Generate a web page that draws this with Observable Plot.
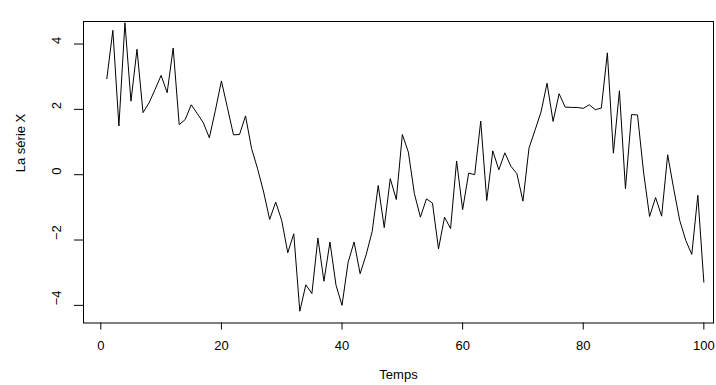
<!DOCTYPE html>
<html>
<head>
<meta charset="utf-8">
<script src="https://cdn.jsdelivr.net/npm/d3@7"></script>
<script src="https://cdn.jsdelivr.net/npm/@observablehq/plot@0.6"></script>
<style>
  html, body { margin: 0; padding: 0; background: #fff; }
  #chart svg { display: block; }
</style>
</head>
<body>
<div id="chart"></div>
<script>
const serieX = [
  2.94, 4.42, 1.49, 4.65, 2.25, 3.84, 1.90, 2.20, 2.61, 3.04,
  2.51, 3.88, 1.53, 1.69, 2.14, 1.87, 1.59, 1.13, 1.97, 2.87,
  2.05, 1.22, 1.23, 1.80, 0.80, 0.18, -0.53, -1.37, -0.84, -1.40,
  -2.39, -1.81, -4.18, -3.37, -3.64, -1.94, -3.26, -2.06, -3.38, -4.00,
  -2.69, -2.06, -3.03, -2.45, -1.74, -0.33, -1.62, -0.12, -0.76, 1.23,
  0.69, -0.58, -1.30, -0.74, -0.87, -2.27, -1.30, -1.65, 0.42, -1.07,
  0.05, 0.00, 1.64, -0.79, 0.73, 0.15, 0.67, 0.26, 0.03, -0.81,
  0.81, 1.36, 1.92, 2.80, 1.63, 2.48, 2.07, 2.06, 2.06, 2.03,
  2.14, 1.99, 2.04, 3.73, 0.66, 2.57, -0.43, 1.84, 1.83, 0.08,
  -1.28, -0.70, -1.27, 0.61, -0.43, -1.40, -2.01, -2.44, -0.63, -3.29
];
const temps = serieX.map((_, i) => i + 1);
const xTicks = [0, 20, 40, 60, 80, 100];
const yTicks = [-4, -2, 0, 2, 4];
const xLabel = "Temps";
const yLabel = "La série X";

const data = temps.map((t, i) => ({t, v: serieX[i]}));
const font = "'Liberation Sans', Arial, Helvetica, sans-serif";

const chart = Plot.plot({
  width: 716,
  height: 385,
  marginLeft: 83,
  marginRight: 3,
  marginTop: 21,
  marginBottom: 62.5,
  style: {fontFamily: font, fontSize: "13px", color: "#000", background: "#fff"},
  x: {domain: [-2.87, 101.6]},
  y: {domain: [-4.54, 4.69]},
  marks: [
    Plot.frame({stroke: "#000", strokeWidth: 1}),
    Plot.line(data, {x: "t", y: "v", stroke: "#000", strokeWidth: 1}),
    Plot.axisX({ticks: xTicks, tickSize: 7, tickPadding: 11, fontSize: 13, label: null, stroke: "#000", fill: "#000"}),
    Plot.axisY({ticks: yTicks, tickSize: 9, tickFormat: () => "", label: null, stroke: "#000"}),
    Plot.text(yTicks, {y: d => d, text: d => d < 0 ? "\u2212" + Math.abs(d) : String(d), frameAnchor: "left", dx: -27, rotate: -90, fontSize: 13, fill: "#000"}),
    Plot.text([xLabel], {frameAnchor: "bottom", dy: 56, fontSize: 13, fill: "#000"}),
    Plot.text([yLabel], {frameAnchor: "left", dx: -63, rotate: -90, fontSize: 13, fill: "#000"})
  ]
});
document.getElementById("chart").appendChild(chart);
</script>
</body>
</html>
